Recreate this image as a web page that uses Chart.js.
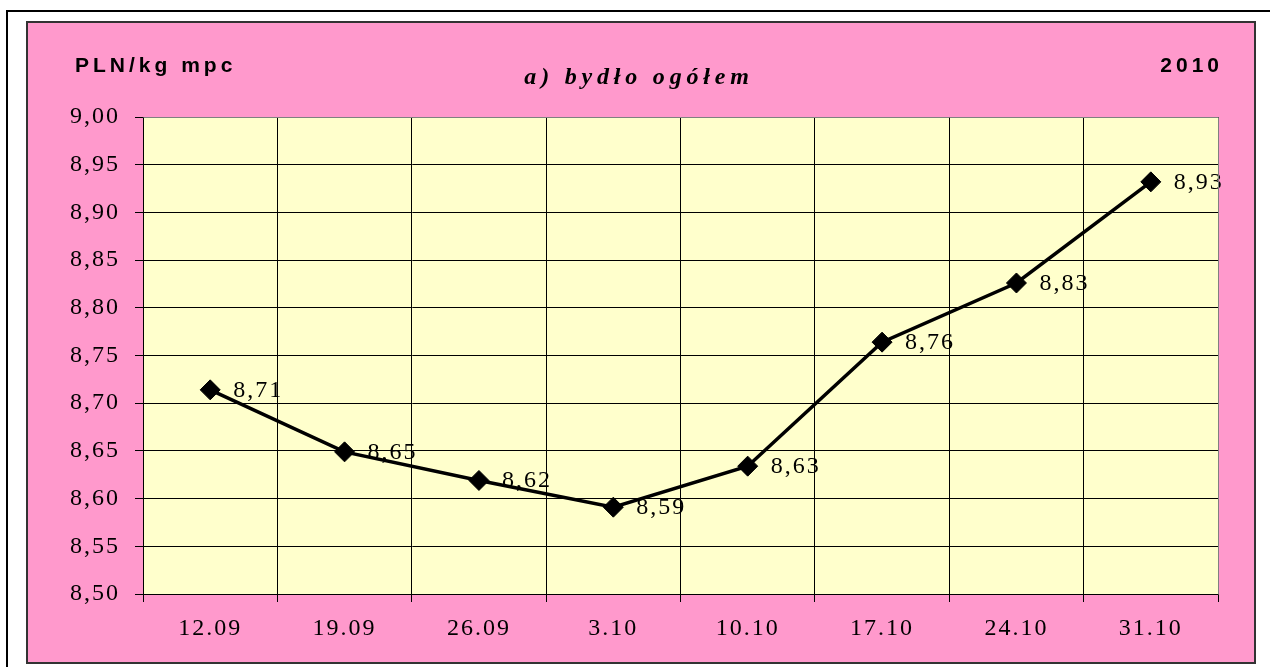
<!DOCTYPE html>
<html>
<head>
<meta charset="utf-8">
<script src="https://cdn.jsdelivr.net/npm/chart.js@4/dist/chart.umd.min.js"></script>
<style>
  html, body { margin: 0; padding: 0; background: #fff; }
  canvas { display: block; }
</style>
</head>
<body>
<canvas id="myChart" width="1270" height="667"></canvas>
<script>
// dane z wykresu
var categories = ["12.09", "19.09", "26.09", "3.10", "10.10", "17.10", "24.10", "31.10"];
var prices = [8.714, 8.649, 8.619, 8.591, 8.634, 8.764, 8.826, 8.932];
var yMin = 8.5;
var yMax = 9.0;
var yStep = 0.05;
var chartTitle = "a) bydło ogółem";
var unitLabel = "PLN/kg mpc";
var yearLabel = "2010";

var serif = "'Liberation Serif', 'Times New Roman', serif";
var sans = "'Liberation Sans', Arial, sans-serif";

function fmt(v) {
  return v.toFixed(2).replace(".", ",");
}

function crisp(p) {
  return Math.round(p - 0.5) + 0.5;
}

var framePlugin = {
  id: "frame",
  beforeUpdate: function (chart) {
    chart.ctx.letterSpacing = "2px";
  },
  beforeDraw: function (chart) {
    var ctx = chart.ctx;
    var a = chart.chartArea;
    ctx.save();
    ctx.fillStyle = "#fff";
    ctx.fillRect(0, 0, chart.width, chart.height);
    // ramka zewnetrzna
    ctx.strokeStyle = "#000";
    ctx.lineWidth = 2;
    ctx.beginPath();
    ctx.moveTo(7, chart.height + 2);
    ctx.lineTo(7, 11);
    ctx.lineTo(chart.width + 2, 11);
    ctx.stroke();
    // tlo rozowe
    ctx.fillStyle = "#ff99cc";
    ctx.fillRect(27, 22, 1228, 641);
    ctx.strokeStyle = "#333";
    ctx.lineWidth = 2;
    ctx.strokeRect(27, 22, 1228, 641);
    // obszar wykresu
    ctx.fillStyle = "#ffffcc";
    ctx.fillRect(a.left, a.top, a.right - a.left, a.bottom - a.top);
    // teksty
    ctx.fillStyle = "#000";
    ctx.textBaseline = "alphabetic";
    ctx.font = "bold 21px " + sans;
    ctx.letterSpacing = "4px";
    ctx.textAlign = "left";
    ctx.fillText(unitLabel, 75, 72);
    ctx.textAlign = "right";
    ctx.fillText(yearLabel, 1223, 72);
    ctx.font = "italic bold 24px " + serif;
    ctx.letterSpacing = "4.8px";
    ctx.textAlign = "center";
    ctx.fillText(chartTitle, 639, 84);
    ctx.restore();
    ctx.letterSpacing = "2px";
  },
  afterDraw: function (chart) {
    var ctx = chart.ctx;
    var a = chart.chartArea;
    ctx.save();
    ctx.strokeStyle = "#808080";
    ctx.lineWidth = 1;
    ctx.beginPath();
    ctx.moveTo(crisp(a.left), crisp(a.top));
    ctx.lineTo(crisp(a.right), crisp(a.top));
    ctx.lineTo(crisp(a.right), crisp(a.bottom));
    ctx.stroke();
    ctx.restore();
  },
  afterDatasetsDraw: function (chart) {
    var ctx = chart.ctx;
    var meta = chart.getDatasetMeta(0);
    ctx.save();
    ctx.font = "24px " + serif;
    ctx.letterSpacing = "2px";
    ctx.fillStyle = "#000";
    ctx.textAlign = "left";
    ctx.textBaseline = "alphabetic";
    meta.data.forEach(function (pt, i) {
      ctx.fillText(fmt(prices[i]), pt.x + 23, pt.y + 7);
    });
    ctx.restore();
  }
};

var ctx = document.getElementById("myChart").getContext("2d");
var myChart = new Chart(ctx, {
  type: "line",
  data: {
    labels: categories,
    datasets: [
      {
        label: "bydło ogółem",
        data: prices,
        borderColor: "#000",
        borderWidth: 3.5,
        tension: 0,
        pointStyle: "rectRot",
        pointRadius: 10,
        pointHoverRadius: 10,
        pointBackgroundColor: "#000",
        pointBorderColor: "#000",
        pointBorderWidth: 1
      }
    ]
  },
  options: {
    responsive: false,
    animation: false,
    devicePixelRatio: 1,
    layout: { padding: { left: 27, top: 117, right: 52, bottom: 0 } },
    plugins: {
      legend: { display: false },
      tooltip: { enabled: false }
    },
    scales: {
      x: {
        offset: true,
        grid: { offset: true, color: "#000", lineWidth: 1, tickLength: 8, tickColor: "#000" },
        border: { color: "#000", width: 1 },
        ticks: {
          color: "#000",
          font: { family: serif, size: 24 },
          padding: 12,
          maxRotation: 0,
          autoSkip: false
        },
        afterFit: function (scale) { scale.height = 73; }
      },
      y: {
        min: yMin,
        max: yMax,
        grid: { color: "#000", lineWidth: 1, tickLength: 8, tickColor: "#000" },
        border: { color: "#000", width: 1 },
        ticks: {
          stepSize: yStep,
          color: "#000",
          font: { family: serif, size: 24 },
          padding: 15,
          callback: function (v) { return fmt(v); }
        },
        afterFit: function (scale) { scale.width = 116; }
      }
    }
  },
  plugins: [framePlugin]
});
</script>
</body>
</html>
